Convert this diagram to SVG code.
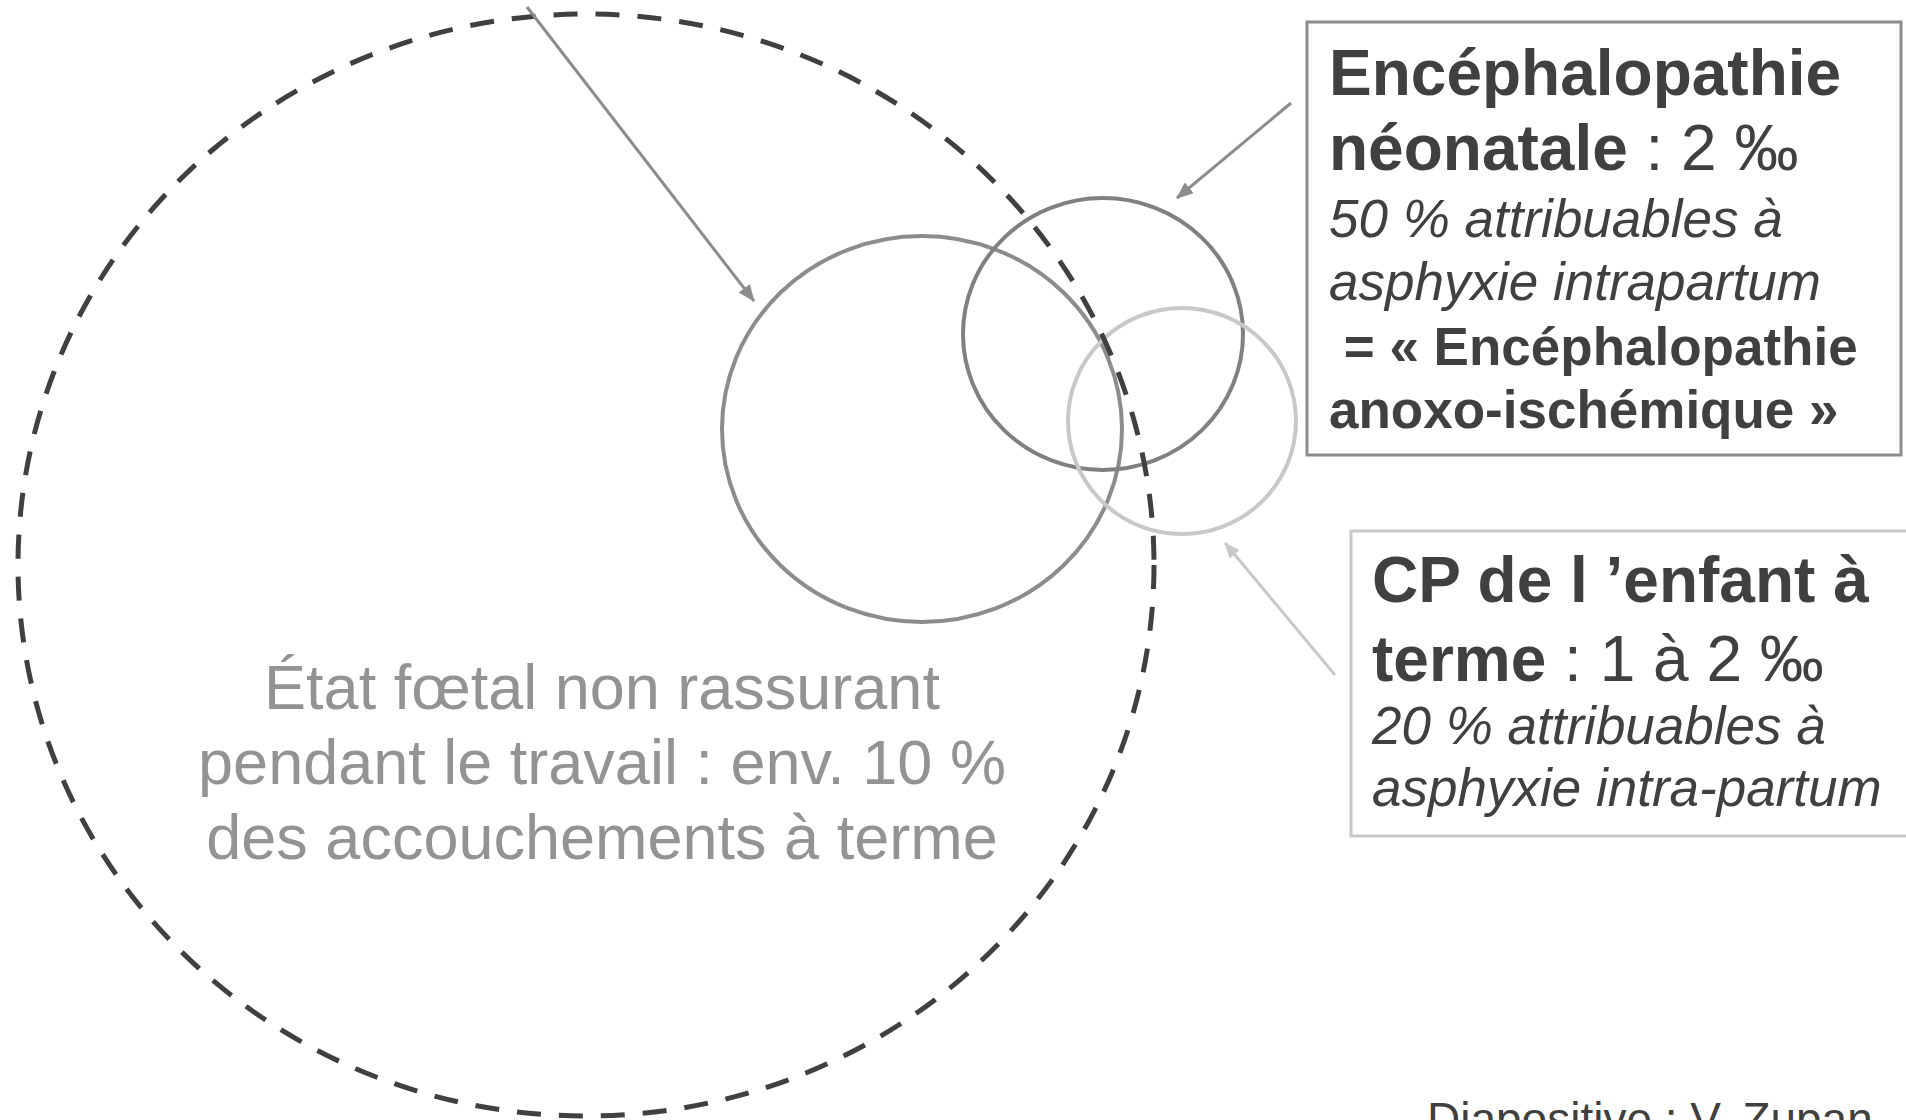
<svg xmlns="http://www.w3.org/2000/svg" width="1906" height="1120" viewBox="0 0 1906 1120">
<style>
.t{font-family:"Liberation Sans",Arial,sans-serif;fill:#404040}
.b{font-weight:bold}
.i{font-style:italic}
.c{font-family:"Liberation Sans",Arial,sans-serif;fill:#939393;font-size:63px;text-anchor:middle}
</style>
<defs>
<marker id="ah" markerWidth="17" markerHeight="14" refX="16" refY="7" orient="auto" markerUnits="userSpaceOnUse" viewBox="0 0 17 14">
<path d="M0,0 L17,7 L0,14 z" fill="#8c8c8c"/>
</marker>
<marker id="ahl" markerWidth="16" markerHeight="13" refX="15" refY="6.5" orient="auto" markerUnits="userSpaceOnUse" viewBox="0 0 16 13">
<path d="M0,0 L16,6.5 L0,13 z" fill="#c8c8c8"/>
</marker>
</defs>
<rect width="1906" height="1120" fill="#ffffff"/>
<g id="circle-sfa">
<ellipse cx="922" cy="429" rx="200" ry="193" fill="none" stroke="#8c8c8c" stroke-width="4"/>
</g>
<g id="circle-enc">
<ellipse cx="1103" cy="334" rx="140" ry="136" fill="none" stroke="#808080" stroke-width="4"/>
</g>
<g id="circle-cp">
<ellipse cx="1182" cy="421" rx="114" ry="113" fill="none" stroke="#c8c8c8" stroke-width="4"/>
</g>
<g id="ellipse-efnr">
<ellipse cx="586" cy="565" rx="568" ry="551" fill="none" stroke="#404040" stroke-width="5" stroke-dasharray="24 18"/>
<text class="c" x="602" y="709">État fœtal non rassurant</text>
<text class="c" x="602" y="784">pendant le travail : env. 10 %</text>
<text class="c" x="602" y="859">des accouchements à terme</text>
</g>
<g id="box-enc">
<rect x="1307" y="22" width="594" height="433" fill="none" stroke="#8c8c8c" stroke-width="3"/>
<text class="t b" x="1329" y="95" font-size="64">Encéphalopathie</text>
<text class="t" x="1329" y="170" font-size="64"><tspan class="b">néonatale</tspan> : 2 ‰</text>
<text class="t i" x="1329" y="237" font-size="53">50 % attribuables à</text>
<text class="t i" x="1329" y="300" font-size="53">asphyxie intrapartum</text>
<text class="t b" x="1329" y="365" font-size="53" xml:space="preserve"> = « Encéphalopathie</text>
<text class="t b" x="1329" y="428" font-size="53">anoxo-ischémique »</text>
</g>
<g id="box-cp">
<rect x="1351" y="531" width="560" height="305" fill="none" stroke="#c8c8c8" stroke-width="3"/>
<text class="t b" x="1372" y="602" font-size="64">CP de l ’enfant à</text>
<text class="t" x="1372" y="681" font-size="64"><tspan class="b">terme</tspan> : 1 à 2 ‰</text>
<text class="t i" x="1372" y="744" font-size="53">20 % attribuables à</text>
<text class="t i" x="1372" y="806" font-size="53">asphyxie intra-partum</text>
</g>
<g id="connectors">
<line x1="527" y1="7" x2="754" y2="301" stroke="#8c8c8c" stroke-width="3" marker-end="url(#ah)"/>
<line x1="1291" y1="103" x2="1177" y2="198" stroke="#8c8c8c" stroke-width="3" marker-end="url(#ah)"/>
<line x1="1335" y1="675" x2="1225" y2="543" stroke="#c8c8c8" stroke-width="3" marker-end="url(#ahl)"/>
</g>
<g id="footer">
<text class="t" x="1427" y="1135" font-size="46">Diapositive : V. Zupan</text>
</g>
</svg>
